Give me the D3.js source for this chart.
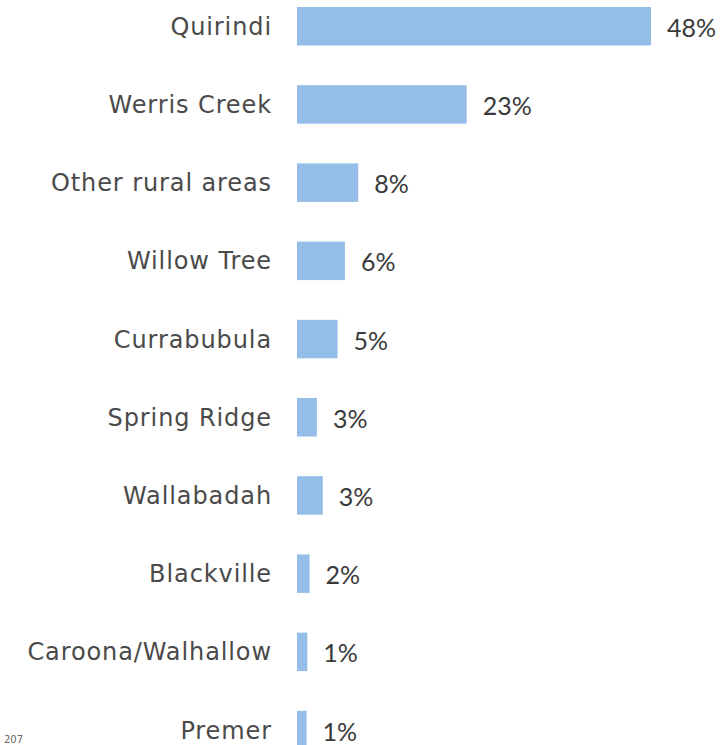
<!DOCTYPE html>
<html>
<head>
<meta charset="utf-8">
<script src="https://cdn.jsdelivr.net/npm/d3@7"></script>
<style>
  body { margin: 0; background: #fff; }
  .cat { font-family: "DejaVu Sans", sans-serif; font-size: 24px; fill: #4a4a4a; letter-spacing: 0.9px; }
  .val { font-family: Lato, sans-serif; font-size: 25px; fill: #3a3a3a; }
</style>
</head>
<body>
<div class="chart"></div>
<script>
// localities, share of residents
const categories = ["Quirindi", "Werris Creek", "Other rural areas", "Willow Tree", "Currabubula",
    "Spring Ridge", "Wallabadah", "Blackville", "Caroona/Walhallow", "Premer"];
const values = [48, 23, 8.3, 6.5, 5.5, 2.7, 3.5, 1.7, 1.4, 1.3];
const valueLabels = ["48%", "23%", "8%", "6%", "5%", "3%", "3%", "2%", "1%", "1%"];

BarChart(".chart");

function BarChart(container) {

    const width = 721, height = 745;

    const svg = d3.select(container)
        .append("svg")
        .attr("width", width)
        .attr("height", height);

    // scales
    const xScale = d3.scaleLinear()
        .domain([0, 48])
        .range([297, 651]);

    const yScale = d3.scaleBand()
        .domain(categories)
        .range([7, 749.3])
        .paddingInner(0.508)
        .paddingOuter(0);

    const rows = categories.map((c, i) => ({cat: c, value: values[i], label: valueLabels[i]}));

    // bars
    svg.selectAll(".bar")
        .data(rows)
        .enter()
        .append("rect")
        .attr("class", "bar")
        .attr("x", xScale(0))
        .attr("y", d => yScale(d.cat))
        .attr("width", d => xScale(d.value) - xScale(0))
        .attr("height", yScale.bandwidth())
        .attr("fill", "#94bee7");

    // category labels
    svg.selectAll(".cat")
        .data(rows)
        .enter()
        .append("text")
        .attr("class", "cat")
        .attr("x", xScale(0) - 25)
        .attr("y", d => yScale(d.cat) + yScale.bandwidth() / 2)
        .attr("dy", "0.36em")
        .attr("text-anchor", "end")
        .text(d => d.cat);

    // value labels
    svg.selectAll(".val")
        .data(rows)
        .enter()
        .append("text")
        .attr("class", "val")
        .attr("x", d => xScale(d.value) + 16)
        .attr("y", d => yScale(d.cat) + yScale.bandwidth() / 2)
        .attr("dy", "0.42em")
        .text(d => d.label);

    // page number in the bottom corner
    svg.append("text")
        .attr("x", 4)
        .attr("y", 743)
        .attr("font-family", "DejaVu Sans, sans-serif")
        .attr("font-size", 10)
        .attr("fill", "#666")
        .text("207");
}
</script>
</body>
</html>
